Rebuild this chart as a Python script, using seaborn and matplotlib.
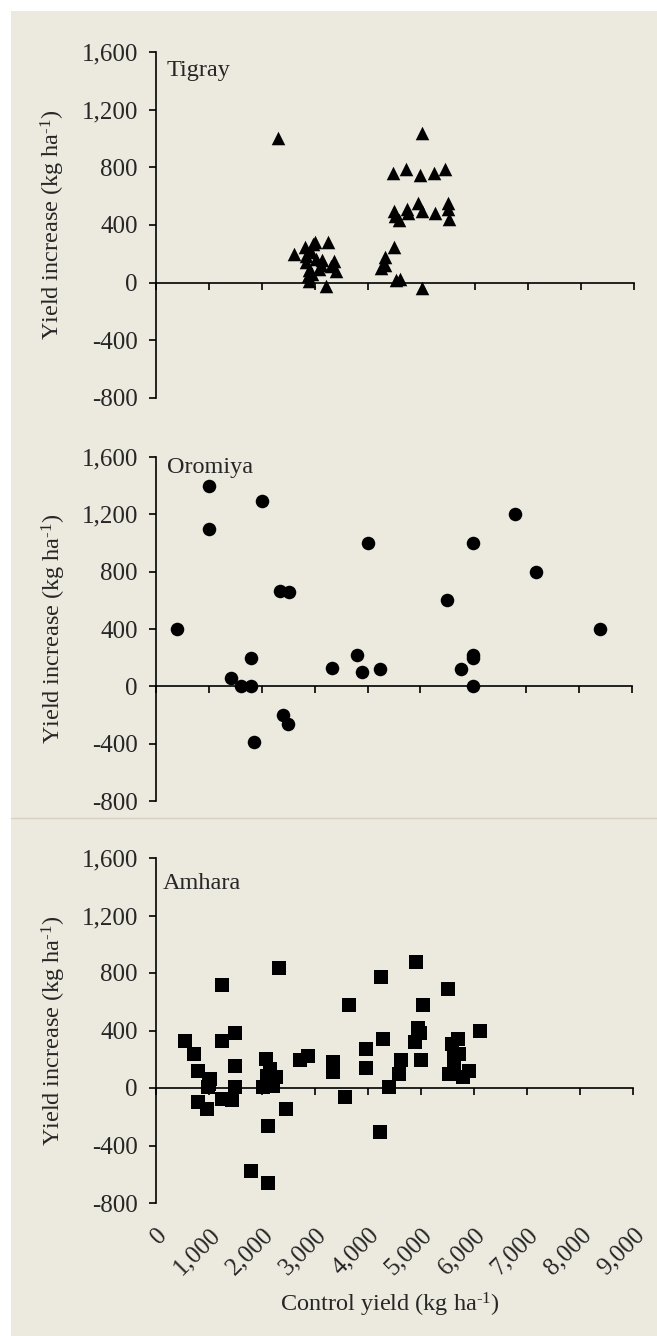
import matplotlib.pyplot as plt
import seaborn as sns
from matplotlib.lines import Line2D
from matplotlib.patches import Rectangle

# values (control yield, yield increase; kg/ha)
tigray_x = [2300, 2600, 2800, 2950, 3000, 3240, 2830, 2880, 2860, 2890, 3010, 3130,
            3100, 3360, 3380, 3210, 2920, 3070, 3290, 2830, 2940,
            4470, 4700, 4980, 5230, 5450, 5000, 4480, 4500, 4580, 4730, 4750, 4940,
            5010, 5250, 5500, 5500, 5520, 4490, 4310, 4320, 4230, 4510, 4590, 5000]
tigray_y = [1000, 200, 245, 270, 285, 280, 140, 90, 45, 15, 165, 160,
            125, 150, 80, -20, 210, 95, 115, 185, 60,
            760, 785, 750, 760, 785, 1040, 500, 460, 435, 510, 485, 550,
            495, 485, 550, 510, 440, 245, 175, 125, 100, 20, 25, -35]

oromiya_x = [400, 1000, 1000, 1420, 1600, 1800, 1800, 1850, 2000, 2340, 2510, 2400,
             2500, 3320, 3800, 3900, 4000, 4240, 5500, 5760, 5990, 6000, 6000, 6000,
             6780, 7190, 8400]
oromiya_y = [400, 1400, 1100, 60, 0, 0, 200, -385, 1290, 665, 660, -200,
             -260, 125, 220, 100, 1000, 120, 600, 120, 220, 200, 0, 1000,
             1200, 800, 400]

amhara_x = [550, 720, 800, 800, 960, 1020, 975, 1000,
            1240, 1250, 1490, 1490, 1490, 1250, 1430,
            2080, 2150, 2100, 2260, 2010, 2200, 2120, 1800, 2120, 2330, 2450,
            2710, 2870, 3340, 3340, 3570, 3640, 3960, 3960, 4280, 4240, 4230, 4400,
            4620, 4590, 4950, 4975, 4890, 5000, 4900, 5040,
            5510, 5530, 5580, 5700, 5620, 5720, 5620, 5790, 5900, 6110]
amhara_y = [330, 240, 120, -95, -145, 60, 10, 30,
            715, 325, 380, 155, 5, -75, -85,
            200, 130, 85, 80, 5, 15, -265, -575, -660, 835, -145,
            195, 225, 180, 110, -60, 580, 270, 140, 340, 775, -305, 5,
            195, 100, 420, 380, 320, 195, 875, 580,
            690, 100, 305, 340, 235, 240, 155, 80, 120, 400]

x_ticks = [0, 1000, 2000, 3000, 4000, 5000, 6000, 7000, 8000, 9000]
x_tick_labels = ["0", "1,000", "2,000", "3,000", "4,000", "5,000",
                 "6,000", "7,000", "8,000", "9,000"]
y_ticks = [-800, -400, 0, 400, 800, 1200, 1600]
y_tick_labels = ["-800", "-400", "0", "400", "800", "1,200", "1,600"]

BG = "#ECE9DF"
W, H = 657, 1336

sns.set_style("white")
plt.rcParams["font.family"] = ["Liberation Serif", "DejaVu Serif"]
plt.rcParams["mathtext.fontset"] = "custom"
plt.rcParams["mathtext.rm"] = "Liberation Serif"
plt.rcParams["mathtext.it"] = "Liberation Serif:italic"
plt.rcParams["font.size"] = 17

UNIT = r"(kg ha$^{\text{-}1}$)"


def px_box(left, top, right, bottom):
    return [left / W, 1 - bottom / H, (right - left) / W, (bottom - top) / H]


fig = plt.figure(figsize=(W / 100, H / 100), dpi=100, facecolor="white")
fig.patches.append(Rectangle((11 / W, 0), 1, 1 - 11 / H, transform=fig.transFigure,
                             facecolor=BG, edgecolor="none", zorder=-10))
fig.add_artist(Line2D([11 / W, 1], [1 - 818 / H] * 2, color="#D9D0BF", lw=1))

panels = [
    ("Tigray", tigray_x, tigray_y, "^", px_box(156, 52, 634, 398), 0.022, 0.977),
    ("Oromiya", oromiya_x, oromiya_y, "o", px_box(156, 457, 632, 801), 0.024, 1.0),
    ("Amhara", amhara_x, amhara_y, "s", px_box(156, 858, 633, 1203), 0.014, 0.956),
]

axes = []
for name, xs, ys, marker, box, tx, ty in panels:
    ax = fig.add_axes(box)
    ax.set_facecolor("none")
    sns.scatterplot(x=xs, y=ys, marker=marker, s=95, color="black",
                    linewidth=0, ax=ax, zorder=3, clip_on=False)
    ax.set_xlim(0, 9000)
    ax.set_ylim(-800, 1600)
    ax.spines["bottom"].set_position(("data", 0))
    ax.spines["top"].set_visible(False)
    ax.spines["right"].set_visible(False)
    for side in ("left", "bottom"):
        ax.spines[side].set_color("black")
        ax.spines[side].set_linewidth(1.2)
    ax.set_xticks(x_ticks)
    ax.set_xticklabels([])
    ax.set_yticks(y_ticks, y_tick_labels)
    ax.tick_params(bottom=True, left=True, direction="out", length=5, width=1.2,
                   color="black", labelsize=18, pad=8)
    ax.set_xlabel("")
    ax.set_ylabel("")
    ax.text(-0.215, 0.5, "Yield increase " + UNIT, rotation=90,
            transform=ax.transAxes, ha="center", va="center", fontsize=17.5)
    ax.text(tx, ty, name, transform=ax.transAxes, ha="left", va="top", fontsize=17.5)
    axes.append(ax)

# bottom panel carries the x tick labels low, below the plot area
ax3 = axes[-1]
sec = ax3.secondary_xaxis("bottom")
sec.set_xticks(x_ticks, x_tick_labels, rotation=45, ha="right",
               rotation_mode="anchor")
sec.spines["bottom"].set_visible(False)
sec.tick_params(bottom=True, length=0, pad=15, labelsize=18)
ax3.text(0.49, -(1305 - 1203) / 345, "Control yield " + UNIT,
         transform=ax3.transAxes, ha="center", va="center", fontsize=17.5)

fig.savefig("out.png", dpi=100, facecolor="white")
